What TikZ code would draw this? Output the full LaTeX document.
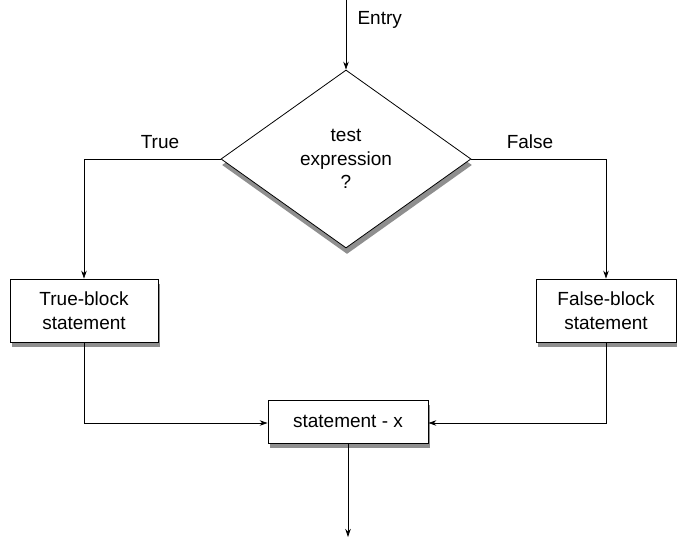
\documentclass[tikz,border=0pt]{standalone}
\usepackage{fontspec}
\setmainfont{Liberation Sans}
\usetikzlibrary{shapes.geometric,shadows,arrows.meta}
\begin{document}
\begin{tikzpicture}[x=1pt,y=-1pt,
  every node/.style={font=\fontsize{19}{23.5}\selectfont},
  flow/.style={line width=0.8pt,-{Stealth[length=8pt,width=5.5pt]}},
  shade/.style={drop shadow={shadow xshift=2pt,shadow yshift=-5pt,fill=black!55,opacity=0.8}},
  stmt/.style={draw,line width=0.8pt,fill=white,shade,align=center,inner sep=0pt},
  decision/.style={diamond,draw,line width=0.8pt,fill=white,align=center,inner sep=0pt,
    minimum width=250pt,minimum height=178pt,
    drop shadow={shadow xshift=1pt,shadow yshift=-6pt,fill=black!55,opacity=0.8}}]
\useasboundingbox (0,0) rectangle (677,546);

% decision and statement blocks
\node[decision] (test) at (346,159) {test\\expression\\?};
\node[stmt,minimum width=148pt,minimum height=63pt] (tb) at (84,310.5) {True-block\\statement};
\node[stmt,minimum width=140pt,minimum height=63pt] (fb) at (606,310.5) {False-block\\statement};
\node[stmt,minimum width=160pt,minimum height=43pt] (sx) at (348,421.5) {statement - x};

% free ends of the entry and exit arrows
\coordinate (in) at (346,0);
\coordinate (out) at (348,537);
\coordinate (join) at (0,423);

% connectors
\draw[flow] (in) -- (test.north);
\draw[flow] (test.west) -| (tb.north);
\draw[flow] (test.east) -| (fb.north);
\draw[flow] (tb.south) |- (sx.west |- join);
\draw[flow] (fb.south) |- (sx.east |- join);
\draw[flow] (sx.south) -- (out);

% labels
\node[anchor=west] (lentry) at (354,20) {Entry};
\node (ltrue) at (160,142) {True};
\node (lfalse) at (530,142) {False};
\end{tikzpicture}
\end{document}
